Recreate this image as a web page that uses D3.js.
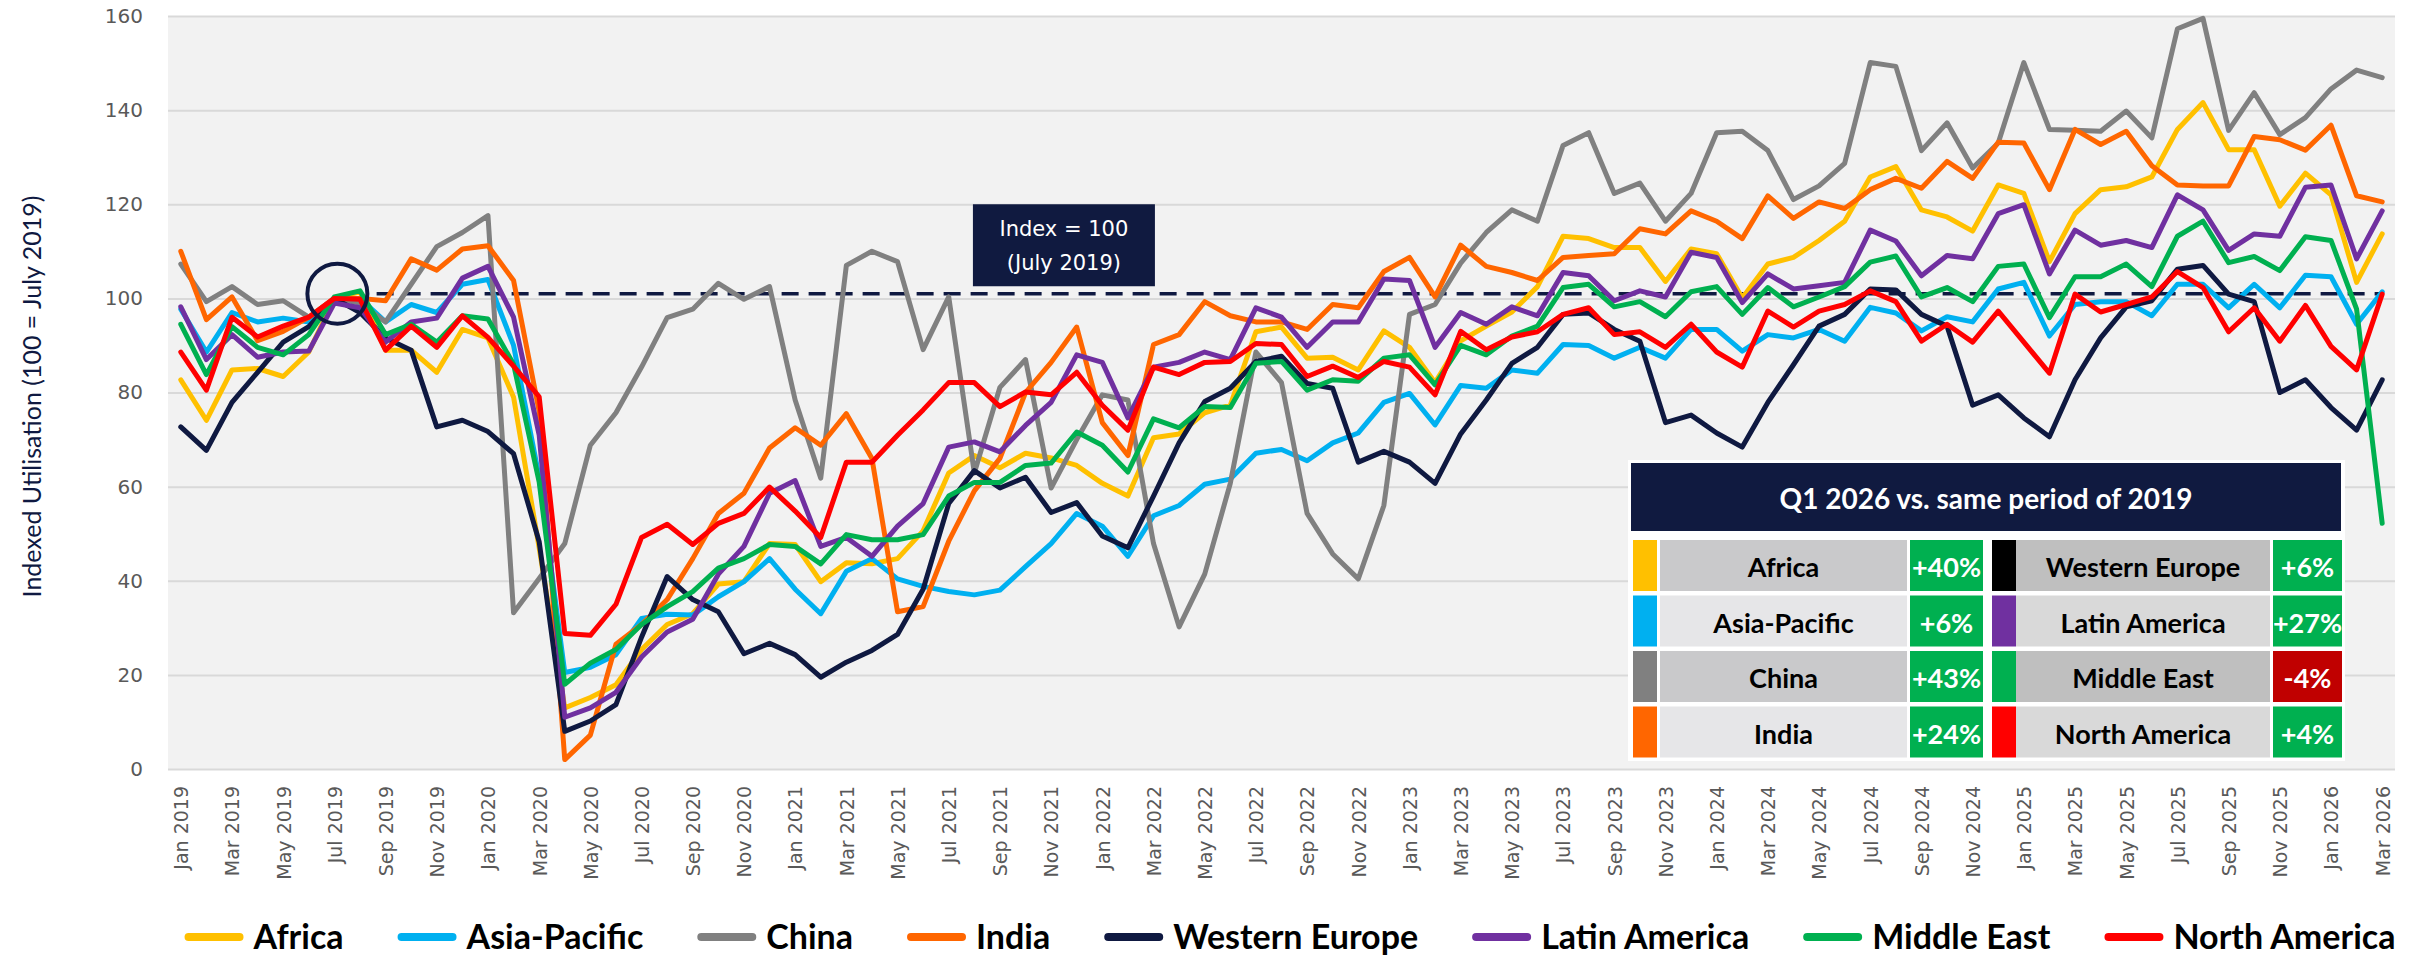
<!DOCTYPE html>
<html><head><meta charset="utf-8">
<script src="https://cdn.jsdelivr.net/npm/d3@7"></script>
<style>
body{margin:0;background:#fff;}
svg{display:block;}
</style></head><body>
<svg id="chart" width="2414" height="956"></svg>
<script>
// ---------- DATA ----------
const monthNames = ["Jan","Feb","Mar","Apr","May","Jun","Jul","Aug","Sep","Oct","Nov","Dec"];
const years = [2019,2020,2021,2022,2023,2024,2025,2026];
const lastMonth = "Mar 2026";
const categories = [];
for (const yr of years) { for (const m of monthNames) { const c = m + " " + yr; categories.push(c); if (c === lastMonth) break; } }
const tickLabels = categories.filter((d,i) => i % 2 === 0);
const yTicks = [0,20,40,60,80,100,120,140,160];

const seriesNames = ["Africa","Asia-Pacific","China","India","Western Europe","Latin America","Middle East","North America"];
const seriesColors = ["#FFC000","#00B0F0","#808080","#FF6600","#0F1941","#7030A0","#00B050","#FF0000"];

const africa = [
82.7,74.1,84.8,85.1,83.4,88.6,100,101.4,89,89,84.3,93.4,
91.6,79,47,13,15.2,17.9,25.4,30.7,33,39.3,39.8,47.9,
47.7,39.8,43.8,43.6,44.7,50.6,62.9,66.6,64,67.1,66.1,64.5,
60.7,58,70.4,71.2,75.7,77.3,92.9,93.9,87.3,87.5,84.8,93.1,
89.6,82.1,91,94.1,97.1,102.5,113.2,112.7,110.8,110.8,103.6,110.5,
109.5,100.1,107.3,108.7,112.3,116.4,125.8,128,118.8,117.3,114.3,124.1,
122.3,107.8,118,123.1,123.7,125.8,135.9,141.6,131.6,131.6,119.6,126.6,
122,103.4,113.7];
const asiaPacific = [
97.7,88.6,97,95,95.8,95,100,100,95,98.7,97,103,
104,90,62,20.5,21.6,24.3,32,32.9,32.7,36.6,39.8,44.7,
38.2,33,42,44.7,40.4,38.8,37.7,37,38,43,47.9,54.3,
51.6,45.2,53.8,56,60.5,61.6,67.1,67.9,65.5,69.3,71.4,77.9,
79.8,73.1,81.5,80.9,84.8,84.1,90.2,90,87.3,89.6,87.3,93.4,
93.4,88.8,92.3,91.6,93.4,90.9,98.1,96.9,93.1,96.1,95,102,
103.4,92,98.7,99.3,99.3,96.3,103,103,98,103,98,104.9,
104.6,94.5,101.4];
const china = [
107.3,99.3,102.5,98.7,99.5,96,100,99,95,103,111,114,
117.6,33.2,40.5,47.9,68.8,75.7,85.4,95.9,97.7,103.2,99.8,102.5,
78.4,61.8,107,110,107.8,89.1,100.3,62.9,81.1,87,59.7,70,
79.5,78.4,47.9,30.2,41.4,60.7,88.6,82.1,54.3,45.7,40.4,56,
96.6,98.7,107.5,114,118.8,116.4,132.5,135.2,122.3,124.5,116.4,122.3,
135.2,135.5,131.4,121,123.9,128.7,150.1,149.3,131.4,137.3,127.7,133,
150.1,135.9,135.7,135.5,139.8,134.1,157.3,159.5,135.7,143.7,134.8,138.4,
144.5,148.5,146.9];
const india = [
110,95.5,100.3,91,93,96,100,100,99.5,108.4,106,110.5,
111.2,103.8,76,2,7.2,26.5,30.7,36,44.7,54.3,58.6,68.2,
72.5,68.8,75.5,66,33.4,34.5,48.4,59.1,66,80,86.4,93.9,
73.6,66.6,90.2,92.3,99.3,96.3,95,95,93.4,98.7,98,105.7,
108.7,100.3,111.3,106.8,105.5,103.8,108.7,109.1,109.5,114.8,113.7,118.6,
116.4,112.7,121.8,117,120.5,119.1,123.1,125.5,123.4,129.1,125.5,133.2,
133,123.1,135.9,132.7,135.5,128.2,124.1,123.9,123.9,134.4,133.7,131.5,
136.8,121.8,120.5];
const westernEurope = [
72.7,67.7,77.9,84.3,90.7,94,100,97,91.6,89,72.7,74.1,
71.7,67,48.3,8,10.2,13.7,28,40.9,36,33.4,24.5,26.7,
24.3,19.5,22.7,25.2,28.6,38.2,56.4,63.4,59.7,62,54.5,56.6,
49.5,47,58,69.3,78.1,80.9,86.6,87.7,81.9,80.9,65.2,67.5,
65.2,60.7,71.2,78.4,86.2,89.6,96.6,96.9,93.4,90.9,73.6,75.2,
71.4,68.4,77.9,85.9,94.1,96.6,102,101.8,96.6,94.1,77.3,79.5,
74.6,70.6,82.7,91.6,98.2,99.5,106.2,107,100.9,99.3,80,82.7,
76.8,72,82.7];
const latinAmerica = [
98.2,87,92.3,87.5,88.6,88.8,99,98,90.7,95,95.8,104.3,
106.8,96,71,11,13,16.3,23.8,29.1,31.8,41.4,47.3,58.6,
61.3,47.3,49.2,45.2,51.6,56.4,68.4,69.5,67.4,73,77.9,88,
86.4,74.6,85.4,86.4,88.6,87,98,96,89.6,95,95,104.1,
103.8,89.6,97,94.5,98.2,96.3,105.5,104.8,99.5,101.6,100.3,109.8,
108.7,99.1,105.2,102,102.7,103.4,114.5,112.2,104.8,109.1,108.4,118,
119.9,105.2,114.5,111.3,112.3,110.8,122,118.8,110.2,113.7,113.2,123.6,
124.1,108.4,118.6];
const middleEast = [
94.5,83.8,94,89.6,88,92.3,100.3,101.6,92.3,94.5,90.7,96.3,
95.6,86,61,18,22.5,25.4,30.7,34.5,37.7,42.7,44.7,47.7,
47.3,43.6,49.8,48.7,48.7,49.8,58,60.9,60.9,64.5,65,71.6,
68.8,63.1,74.4,72.5,77,76.8,86.2,86.6,80.5,82.7,82.4,87.3,
88,81.6,90,88,92,94.1,102.3,103,98.2,99.3,96.1,101.4,
102.5,96.6,102.3,98.2,100.3,102.5,107.7,109,100.3,102.3,99.3,106.8,
107.3,95.9,104.6,104.6,107.3,102.5,113.2,116.4,107.6,108.9,105.9,113.1,
112.3,97.7,52.2];
const northAmerica = [
88.6,80.5,96,91.8,94.1,96,100,99.8,89,94.1,89.6,96.3,
91.7,85.6,79.1,28.8,28.4,35,49.2,52,47.7,52.2,54.3,59.9,
54.8,49.2,65.2,65.2,70.9,76.3,82.1,82.1,77,80.1,79.5,84.3,
77.3,72,85.4,83.8,86.4,86.6,90.4,90.2,83.4,85.6,83.2,86.6,
85.4,79.5,93,89.1,91.8,92.9,96.6,98,92.3,92.9,89.6,94.5,
88.6,85.4,97.3,93.9,97.3,98.7,101.6,99.3,90.9,94.5,90.7,97.3,
90.7,84.1,100.9,97.1,98.7,100.3,105.7,102.3,92.9,98,90.9,98.5,
89.8,84.8,100.9];
const seriesValues = [africa, asiaPacific, china, india, westernEurope, latinAmerica, middleEast, northAmerica];

const indexLineValue = 101;
const baseCategory = "Jul 2019";
const indexBoxLines = ["Index = 100", "(July 2019)"];
const indexBoxTopValue = 120;
const yAxisTitle = "Indexed Utilisation (100 = July 2019)";

const tableTitle = "Q1 2026 vs. same period of 2019";
const tableLeftRegions = ["Africa","Asia-Pacific","China","India"];
const tableLeftSwatches = ["#FFC000","#00B0F0","#808080","#FF6600"];
const tableLeftValues = ["+40%","+6%","+43%","+24%"];
const tableRightRegions = ["Western Europe","Latin America","Middle East","North America"];
const tableRightSwatches = ["#000000","#7030A0","#00B050","#FF0000"];
const tableRightValues = ["+6%","+27%","-4%","+4%"];

// ---------- LAYOUT ----------
const svg = d3.select("#chart");
const plot = {left:168, right:2395, top:16, bottom:769};
const calibri = "Lato, 'Open Sans', sans-serif";
const verdana = "'DejaVu Sans', Verdana, sans-serif";
const navy = "#0F1941";

const x = d3.scalePoint().domain(categories).range([plot.left, plot.right]).padding(0.5);
const y = d3.scaleLinear().domain([0,160]).range([plot.bottom, plot.top]);

svg.append("rect").attr("x",plot.left).attr("y",plot.top)
  .attr("width",plot.right-plot.left).attr("height",plot.bottom-plot.top).attr("fill","#F2F2F2");

// gridlines
const grid = svg.append("g").attr("transform",`translate(${plot.left},0)`)
  .call(d3.axisLeft(y).tickValues(yTicks).tickSize(-(plot.right-plot.left)).tickFormat(""));
grid.select(".domain").remove();
grid.selectAll("line").attr("stroke","#D9D9D9").attr("stroke-width",2);

// y axis labels
const yAx = svg.append("g").attr("transform",`translate(${plot.left},0)`)
  .call(d3.axisLeft(y).tickValues(yTicks).tickSize(0).tickPadding(25));
yAx.select(".domain").remove();
yAx.selectAll("text").attr("font-family",verdana).attr("font-size",20).attr("fill","#595959");

// x axis labels
const xAx = svg.append("g").attr("transform",`translate(0,${plot.bottom})`)
  .call(d3.axisBottom(x).tickValues(tickLabels).tickSize(0));
xAx.select(".domain").remove();
xAx.selectAll("text")
  .attr("transform","rotate(-90)")
  .attr("x",-17).attr("y",0).attr("dy","0.36em")
  .attr("text-anchor","end")
  .attr("font-family",verdana).attr("font-size",19).attr("fill","#595959");

// y axis title
svg.append("text")
  .attr("transform",`translate(31,${(plot.top+plot.bottom)/2 + 4}) rotate(-90)`)
  .attr("text-anchor","middle").attr("dominant-baseline","central")
  .attr("font-family",calibri).attr("font-size",25).attr("fill",navy)
  .text(yAxisTitle);

// dashed index line
const step = x.step();
svg.append("line")
  .attr("x1", x(categories[7]) + step*0.65).attr("x2", x(categories[categories.length-1]))
  .attr("y1", y(indexLineValue)).attr("y2", y(indexLineValue))
  .attr("stroke",navy).attr("stroke-width",3.5).attr("stroke-dasharray","17,10");

// series lines
const line = d3.line().x((d,i)=>x(categories[i])).y(d=>y(d));
svg.append("g").selectAll("path").data(seriesValues).join("path")
  .attr("d", d=>line(d))
  .attr("fill","none")
  .attr("stroke",(d,i)=>seriesColors[i])
  .attr("stroke-width",5)
  .attr("stroke-linejoin","round")
  .attr("stroke-linecap","round");

// circle marking base month
svg.append("circle")
  .attr("cx", x(baseCategory) + 3).attr("cy", y(indexLineValue))
  .attr("r",30).attr("fill","none").attr("stroke",navy).attr("stroke-width",4);

// index annotation box
const boxW = 182, boxH = 82;
const boxCx = (x(categories[34]) + x(categories[35]))/2;
const boxTop = y(indexBoxTopValue);
svg.append("rect").attr("x",boxCx-boxW/2).attr("y",boxTop).attr("width",boxW).attr("height",boxH).attr("fill","#101A40");
svg.append("g").selectAll("text").data(indexBoxLines).join("text")
  .attr("x",boxCx).attr("y",(d,i)=>boxTop+25+i*34)
  .attr("text-anchor","middle").attr("dominant-baseline","central")
  .attr("font-family",verdana).attr("font-size",21).attr("fill","#fff")
  .text(d=>d);

// ---------- TABLE ----------
const tbl = svg.append("g");
const T = {x:1628, y:460, w:717, h:301};
tbl.append("rect").attr("x",T.x).attr("y",T.y).attr("width",T.w).attr("height",T.h).attr("fill","#fff");
tbl.append("rect").attr("x",1631).attr("y",463).attr("width",710).attr("height",68).attr("fill","#101A40");
tbl.append("text").attr("x",1986).attr("y",498).attr("text-anchor","middle").attr("dominant-baseline","central")
  .attr("font-family",calibri).attr("font-weight","bold").attr("font-size",28).attr("fill","#fff").text(tableTitle);

const rowTop = i => 540 + i*55.5, rowH = 51;
function tableSide(regions, swatches, values, cols, labelFills) {
  const g = tbl.append("g");
  regions.forEach((r,i)=>{
    const top = rowTop(i);
    g.append("rect").attr("x",cols.sx).attr("y",top).attr("width",cols.sw).attr("height",rowH).attr("fill",swatches[i]);
    g.append("rect").attr("x",cols.lx).attr("y",top).attr("width",cols.lw).attr("height",rowH).attr("fill",labelFills[i%2]);
    g.append("text").attr("x",cols.lx+cols.lw/2).attr("y",top+rowH/2+1).attr("text-anchor","middle").attr("dominant-baseline","central")
      .attr("font-family",calibri).attr("font-weight","bold").attr("font-size",27).attr("fill","#000").text(r);
    const neg = values[i].startsWith("-");
    g.append("rect").attr("x",cols.vx).attr("y",top).attr("width",cols.vw).attr("height",rowH).attr("fill",neg?"#C00000":"#00B050");
    g.append("text").attr("x",cols.vx+cols.vw/2).attr("y",top+rowH/2+1).attr("text-anchor","middle").attr("dominant-baseline","central")
      .attr("font-family",calibri).attr("font-weight","bold").attr("font-size",27).attr("fill","#fff").text(values[i]);
  });
}
tableSide(tableLeftRegions, tableLeftSwatches, tableLeftValues,
  {sx:1633, sw:24, lx:1660, lw:247, vx:1910, vw:73}, ["#C9C9CB","#E6E6E8"]);
tableSide(tableRightRegions, tableRightSwatches, tableRightValues,
  {sx:1992, sw:24, lx:2016, lw:254, vx:2273, vw:69}, ["#BFBFBF","#D9D9D9"]);

// ---------- LEGEND ----------
const leg = svg.append("g");
const legLineY = 937, legBase = 949, swLen = 59, swGap = 10, itemGap = 54;
let cx = 0;
seriesNames.forEach((n,i)=>{
  const g = leg.append("g");
  g.append("line").attr("x1",cx+4).attr("x2",cx+swLen-4).attr("y1",legLineY).attr("y2",legLineY)
    .attr("stroke",seriesColors[i]).attr("stroke-width",8).attr("stroke-linecap","round");
  const t = g.append("text").attr("x",cx+swLen+swGap).attr("y",legBase)
    .attr("font-family",calibri).attr("font-weight","bold").attr("font-size",34).attr("fill","#000").text(n);
  const w = t.node().getComputedTextLength();
  cx += swLen + swGap + w + itemGap;
});
const totalW = cx - itemGap;
leg.attr("transform",`translate(${1290 - totalW/2},0)`);
</script>
</body></html>
